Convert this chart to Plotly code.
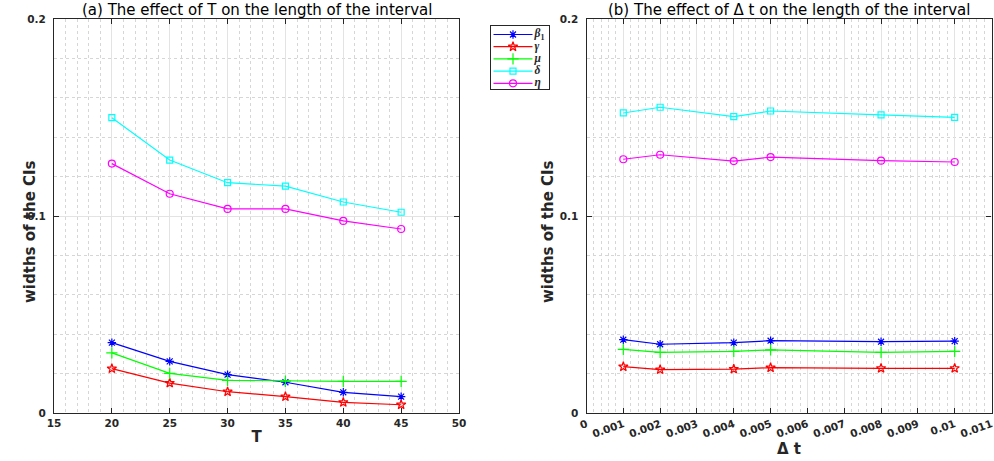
import plotly.graph_objects as go

# ---------------- data ----------------
T_vals = [20, 25, 30, 35, 40, 45]
a_beta1 = [0.0357, 0.0262, 0.0195, 0.0156, 0.0105, 0.0083]
a_gamma = [0.0225, 0.0152, 0.0108, 0.0083, 0.0054, 0.0042]
a_mu = [0.0305, 0.0201, 0.0166, 0.0162, 0.0161, 0.0161]
a_delta = [0.1499, 0.1284, 0.1169, 0.1152, 0.1071, 0.1019]
a_eta = [0.1266, 0.1113, 0.1036, 0.1036, 0.0975, 0.0934]

dt_vals = [0.001, 0.002, 0.004, 0.005, 0.008, 0.01]
b_beta1 = [0.0372, 0.0349, 0.0357, 0.0367, 0.0362, 0.0365]
b_gamma = [0.0235, 0.0220, 0.0223, 0.0230, 0.0227, 0.0227]
b_mu = [0.0323, 0.0308, 0.0313, 0.0320, 0.0308, 0.0313]
b_delta = [0.1523, 0.1552, 0.1504, 0.1533, 0.1513, 0.1501]
b_eta = [0.1288, 0.1311, 0.1279, 0.1299, 0.1281, 0.1274]

series_names = ["<b><i>β</i><sub>1</sub></b>", "<b><i>γ</i></b>", "<b><i>μ</i></b>",
                "<b><i>δ</i></b>", "<b><i>η</i></b>"]
left_x_ticks = [15, 20, 25, 30, 35, 40, 45, 50]
right_x_ticks = [0, 0.001, 0.002, 0.003, 0.004, 0.005, 0.006, 0.007, 0.008, 0.009, 0.01, 0.011]
right_x_labels = ["0", "0.001", "0.002", "0.003", "0.004", "0.005", "0.006",
                  "0.007", "0.008", "0.009", "0.01", "0.011"]
y_ticks = [0, 0.1, 0.2]
y_labels = ["0", "0.1", "0.2"]

colors = ["#0000ff", "#ff0000", "#00ff00", "#00ffff", "#ff00ff"]
symbols = ["asterisk-open", "star-open", "cross-thin-open", "square-open", "circle-open"]
sizes = [7, 7, 8, 6, 7]

W, H = 994, 461
axc = "#262626"
FONT = "DejaVu Sans, Liberation Sans, Arial"

fig = go.Figure()
left_series = [a_beta1, a_gamma, a_mu, a_delta, a_eta]
right_series = [b_beta1, b_gamma, b_mu, b_delta, b_eta]


def mk(i):
    return dict(symbol=symbols[i], size=sizes[i], color=colors[i],
                line=dict(color=colors[i], width=1.2))


for i in range(5):
    fig.add_trace(go.Scatter(
        x=T_vals, y=left_series[i], mode="lines+markers", name=series_names[i],
        line=dict(color=colors[i], width=1.2), marker=mk(i),
        xaxis="x", yaxis="y", showlegend=False))
for i in range(5):
    fig.add_trace(go.Scatter(
        x=dt_vals, y=right_series[i], mode="lines+markers", name=series_names[i],
        line=dict(color=colors[i], width=1.2), marker=mk(i),
        xaxis="x2", yaxis="y2", showlegend=False))

# ---- custom legend box drawn on its own small axis (pixel units) ----
LX0, LX1, LY0, LY1 = 490.5, 549.0, 26.0, 89.0
row_y = [LY0 + 8.5 + 12.2 * k for k in range(5)]
for i in range(5):
    fig.add_trace(go.Scatter(
        x=[LX0 + 3, LX0 + 42], y=[row_y[i], row_y[i]], mode="lines",
        line=dict(color=colors[i], width=1.2), xaxis="x3", yaxis="y3",
        showlegend=False, hoverinfo="skip"))
    fig.add_trace(go.Scatter(
        x=[LX0 + 22.5], y=[row_y[i]], mode="markers", marker=mk(i),
        xaxis="x3", yaxis="y3", showlegend=False, hoverinfo="skip"))
    fig.add_trace(go.Scatter(
        x=[LX0 + 44], y=[row_y[i]], mode="text", text=[series_names[i]],
        textposition="middle right",
        textfont=dict(family="Liberation Serif, DejaVu Serif", size=11.5, color=axc),
        xaxis="x3", yaxis="y3", showlegend=False, hoverinfo="skip"))

tickfont = dict(family=FONT, size=10.5, color=axc, weight="bold")
ydom = [1 - 413 / H, 1 - 19 / H]
minor_grid = dict(showgrid=True, gridcolor="#d6d6d6", griddash="dot", gridwidth=1)

common_axis = dict(
    showline=True, linecolor=axc, linewidth=1.3, mirror="ticks",
    ticks="inside", ticklen=5, tickcolor=axc, tickwidth=1,
    showgrid=True, gridcolor="#e3e3e3", gridwidth=1,
    zeroline=False, tickfont=tickfont, automargin=False,
)

fig.update_layout(
    width=W, height=H, margin=dict(l=0, r=0, t=0, b=0, autoexpand=False),
    plot_bgcolor="white", paper_bgcolor="white",
    showlegend=False,
    xaxis=dict(domain=[54 / W, 459 / W], range=[15, 50], tickvals=left_x_ticks,
               minor=minor_grid | dict(dtick=1),
               title=dict(text="<b>T</b>", font=dict(family=FONT, size=15, color=axc), standoff=3),
               anchor="y", **common_axis),
    yaxis=dict(domain=ydom, range=[0, 0.2], tickvals=y_ticks, ticktext=y_labels,
               minor=minor_grid | dict(dtick=0.02), ticklabelstandoff=5,
               anchor="x", **common_axis),
    xaxis2=dict(domain=[586.5 / W, 991.5 / W], range=[0, 0.011], tickvals=right_x_ticks,
                ticktext=right_x_labels, tickangle=-20,
                minor=minor_grid | dict(dtick=0.0002),
                title=dict(text="<b>Δ t</b>", font=dict(family=FONT, size=15, color=axc), standoff=2),
                anchor="y2", **common_axis),
    yaxis2=dict(domain=ydom, range=[0, 0.2], tickvals=y_ticks, ticktext=y_labels,
                minor=minor_grid | dict(dtick=0.02), ticklabelstandoff=5,
                anchor="x2", **common_axis),
    xaxis3=dict(domain=[LX0 / W, LX1 / W], range=[LX0, LX1], showgrid=False, zeroline=False,
                showticklabels=False, ticks="", showline=True, mirror=True,
                linecolor=axc, linewidth=1, anchor="y3", fixedrange=True),
    yaxis3=dict(domain=[1 - LY1 / H, 1 - LY0 / H], range=[LY1, LY0], showgrid=False, zeroline=False,
                showticklabels=False, ticks="", showline=True, mirror=True,
                linecolor=axc, linewidth=1, anchor="x3", fixedrange=True),
    annotations=[
        dict(text="(a) The effect of T on the length of the interval", x=(54 + 459) / 2 / W, y=1 - 10 / H,
             xref="paper", yref="paper", showarrow=False, xanchor="center", yanchor="middle",
             font=dict(family=FONT, size=15, color="#000000")),
        dict(text="(b) The effect of Δ t on the length of the interval", x=(586.5 + 991.5) / 2 / W, y=1 - 10 / H,
             xref="paper", yref="paper", showarrow=False, xanchor="center", yanchor="middle",
             font=dict(family=FONT, size=15, color="#000000")),
        dict(text="<b>widths of the CIs</b>", x=30 / W, y=1 - 232 / H, textangle=-90,
             xref="paper", yref="paper", showarrow=False, xanchor="center", yanchor="middle",
             font=dict(family=FONT, size=15, color=axc)),
        dict(text="<b>widths of the CIs</b>", x=548 / W, y=1 - 232 / H, textangle=-90,
             xref="paper", yref="paper", showarrow=False, xanchor="center", yanchor="middle",
             font=dict(family=FONT, size=15, color=axc)),
    ],
)

fig.write_html("out.html", config={"displayModeBar": False},
               post_script="document.body.style.margin='0';")
